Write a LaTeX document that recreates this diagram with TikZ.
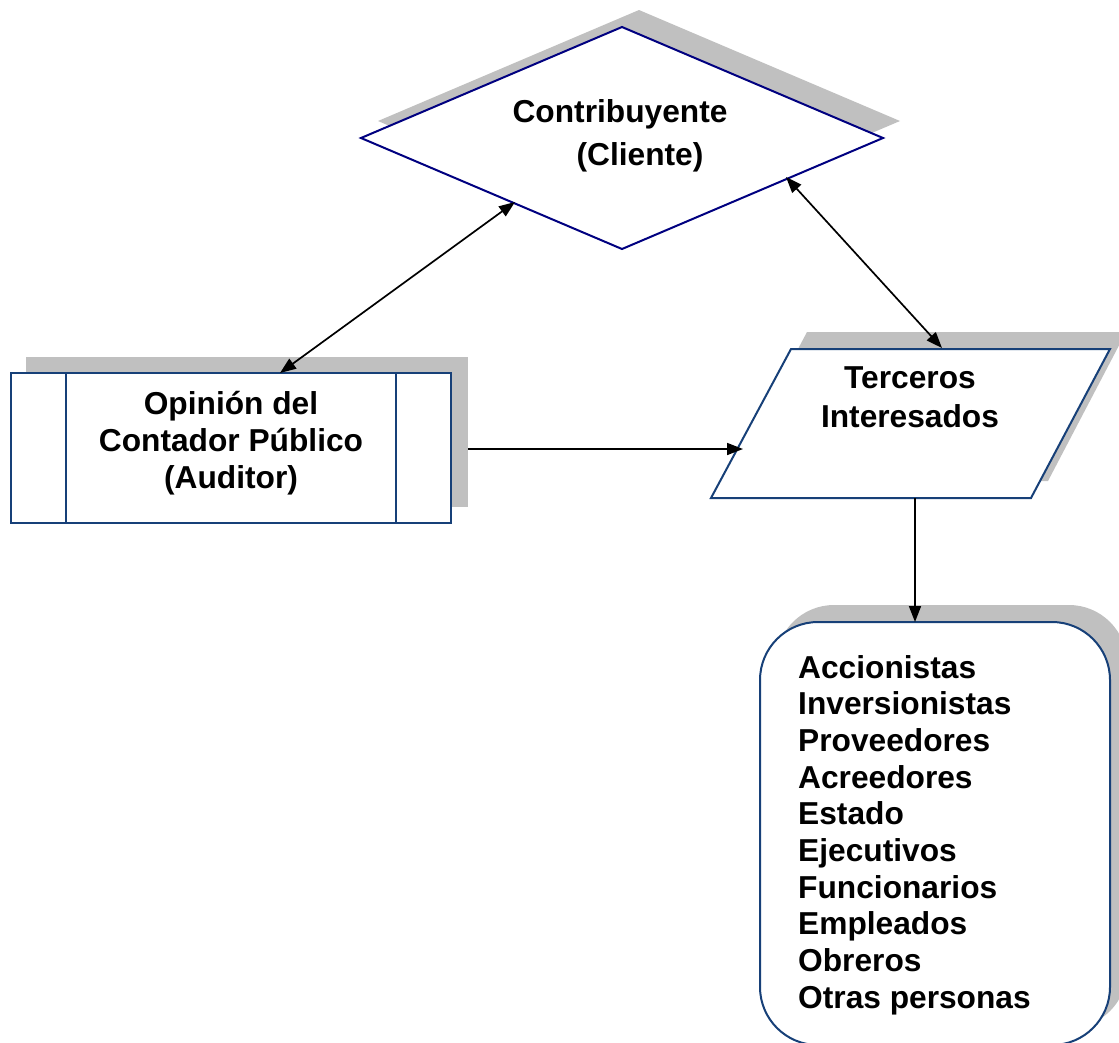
\documentclass[tikz,border=0pt]{standalone}
\usepackage{fontspec}
\setmainfont{Liberation Sans}
\usetikzlibrary{arrows.meta}
\definecolor{shade}{RGB}{192,192,192}
\definecolor{navyline}{RGB}{0,0,128}
\definecolor{steelline}{RGB}{23,64,120}
\begin{document}
\begin{tikzpicture}[x=1pt,y=-1pt,
  shadowfill/.style={fill=shade,draw=none},
  diamondline/.style={draw=navyline,line width=2pt,fill=white,line join=miter},
  boxline/.style={draw=steelline,line width=2pt,fill=white},
  label/.style={font=\fontsize{31.7}{37}\selectfont\bfseries,inner sep=0pt},
  link/.style={draw=black,line width=1.7pt,-{Triangle[length=16pt,width=12pt]}},
  twoway/.style={draw=black,line width=1.7pt,{Triangle[length=16pt,width=12pt]}-{Triangle[length=16pt,width=12pt]}}]
\useasboundingbox (0,0) rectangle (1119,1042);
\clip (0,0) rectangle (1119,1042);

% Contribuyente diamond
\fill[shadowfill] (378,121) -- (639,10) -- (900,121) -- (639,232) -- cycle;
\path[diamondline] (361,138) -- (622,27) -- (883,138) -- (622,249) -- cycle;
\node[label,anchor=base] (contrib) at (620,122) {Contribuyente};
\node[label,anchor=base] (cliente) at (640,165) {(Cliente)};
\coordinate (dL) at (515,202);
\coordinate (dR) at (786,177);

% Opinion box (predefined process)
\fill[shadowfill] (26,357) rectangle (468,507);
\path[boxline] (11,373) rectangle (451,523);
\draw[steelline,line width=2pt] (66,373) -- (66,523) (396,373) -- (396,523);
\node[label,anchor=base] (op1) at (231,414) {Opinión del};
\node[label,anchor=base] (op2) at (231,451) {Contador Público};
\node[label,anchor=base] (op3) at (231,488) {(Auditor)};
\coordinate (rTop) at (280,373);
\coordinate (rRight) at (468,449);

% Terceros parallelogram
\fill[shadowfill] (807,332) -- (1126,332) -- (1048,481) -- (728,481) -- cycle;
\path[boxline,line join=miter] (791,349) -- (1110,349) -- (1031,498) -- (711,498) -- cycle;
\node[label,anchor=base] (ter1) at (910,388) {Terceros};
\node[label,anchor=base] (ter2) at (910,427) {Interesados};
\coordinate (pTop) at (942,348);
\coordinate (pLeft) at (743,449);
\coordinate (pBot) at (915,498);

% List of interested parties
\fill[shadowfill,rounded corners=58pt] (776,605) rectangle (1127,1028);
\path[boxline,rounded corners=58pt] (760,622) rectangle (1110,1045);
\coordinate (lTop) at (915,622);
\foreach \t [count=\i from 0] in {Accionistas,Inversionistas,Proveedores,Acreedores,Estado,Ejecutivos,Funcionarios,Empleados,Obreros,Otras personas}
  \node[label,anchor=base west] (item\i) at (798,678+36.7*\i) {\t};

% Connectors
\draw[twoway] (rTop) -- (dL);
\draw[twoway] (pTop) -- (dR);
\draw[link] (rRight) -- (pLeft);
\draw[link] (pBot) -- (lTop);
\end{tikzpicture}
\end{document}
